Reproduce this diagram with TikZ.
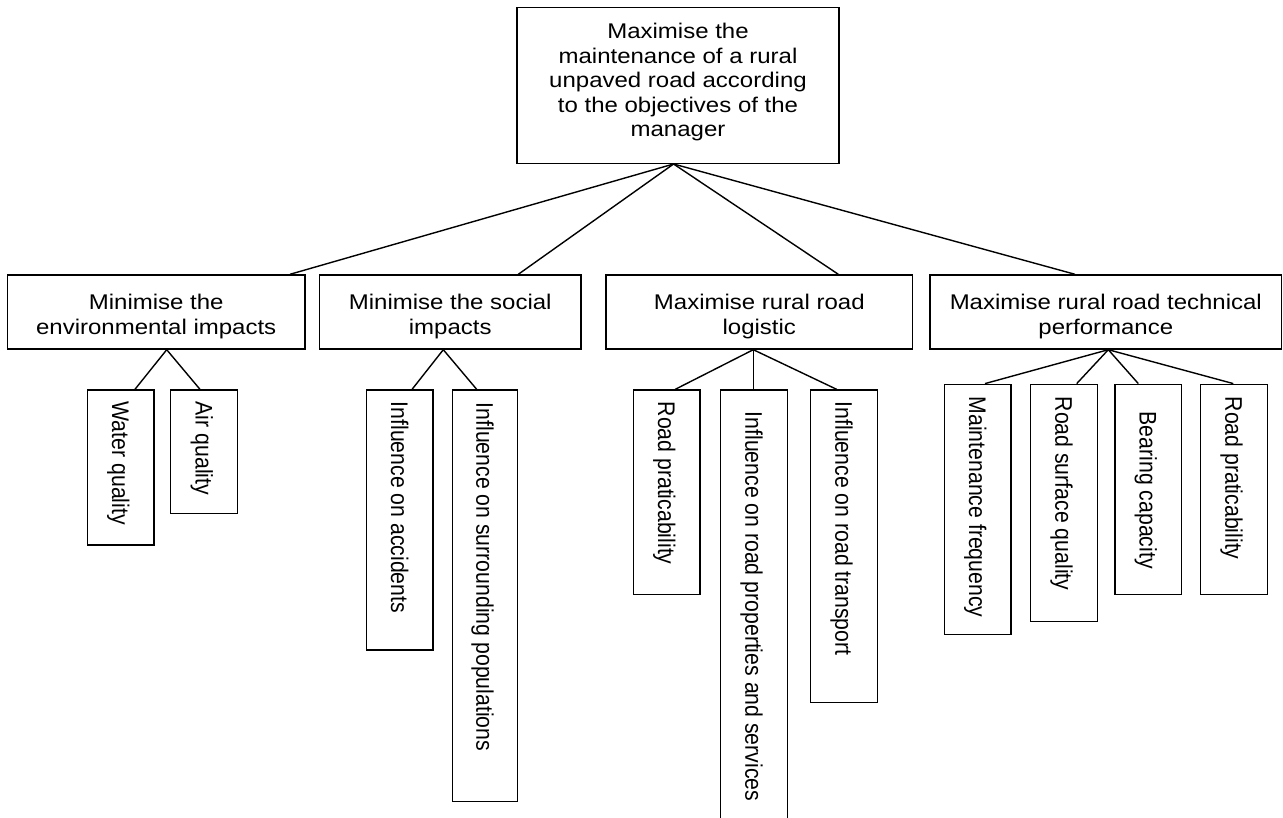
\documentclass[tikz,border=0pt]{standalone}
\usepackage{fontspec}
\setmainfont{Liberation Sans}
\usepackage{graphicx}
\usetikzlibrary{calc}
\newcommand\hbx[3]{\raisebox{#1}[\height][\depth]{\scalebox{1}[0.885]{\fontsize{24}{#2}\selectfont\begin{tabular}{@{}c@{}}#3\end{tabular}}}}
\newcommand\vtx[2]{\makebox[#1pt][l]{\scalebox{0.885}[1]{\fontsize{24}{28}\selectfont #2}}}
\tikzset{
  box/.style={draw, line width=1.4pt, inner sep=0pt, rectangle},
  vbox/.style={box, rotate=-90, inner ysep=0pt, text height=17.2pt, text depth=0pt},
  conn/.style={line width=1.4pt},
}
\begin{document}
\begin{tikzpicture}[x=1pt,y=-1pt]
\useasboundingbox[fill=white] (0,0) rectangle (1283,818);
% top
\node[box, minimum width=322pt, minimum height=156pt] (top) at (678,85.3)
  {\hbx{2.5pt}{27.5}{Maximise the\\maintenance of a rural\\unpaved road according\\to the objectives of the\\manager}};
% level 2
\node[box, minimum width=297.7pt, minimum height=74pt] (b1) at (156.2,312)
  {\hbx{-5pt}{29}{Minimise the\\environmental impacts}};
\node[box, minimum width=261.7pt, minimum height=74pt] (b2) at (450.2,312)
  {\hbx{-5pt}{29}{Minimise the social\\impacts}};
\node[box, minimum width=306.7pt, minimum height=74pt] (b3) at (759.3,312)
  {\hbx{-5pt}{29}{Maximise rural road\\logistic}};
\node[box, minimum width=351.7pt, minimum height=74pt] (b4) at (1105.8,312)
  {\hbx{-5pt}{29}{Maximise rural road technical\\performance}};
% level 3
\node[vbox, minimum width=155pt, minimum height=66.7pt, inner xsep=11.7pt] (wq) at (120.7,467.5) {\vtx{131.6}{Water quality}};
\node[vbox, minimum width=123.3pt, minimum height=67pt, inner xsep=11.7pt] (aq) at (204.2,451.7) {\vtx{99.9}{Air quality}};
\node[vbox, minimum width=260pt, minimum height=66.5pt, inner xsep=11.7pt] (acc) at (399.6,520) {\vtx{236.6}{Influence on accidents}};
\node[vbox, minimum width=411.7pt, minimum height=64.6pt, inner xsep=12.7pt] (pop) at (485,595.9) {\vtx{386.3}{Influence on surrounding populations}};
\node[vbox, minimum width=204.3pt, minimum height=66.7pt, inner xsep=11.7pt] (rp) at (666.7,492.2) {\vtx{180.9}{Road praticability}};
\node[vbox, minimum width=450pt, minimum height=66.6pt, inner xsep=21.7pt] (prop) at (754,615) {\vtx{406.6}{Influence on road properties and services}};
\node[vbox, minimum width=312.3pt, minimum height=66.6pt, inner xsep=11.7pt] (tr) at (844,546.2) {\vtx{288.9}{Influence on road transport}};
\node[vbox, minimum width=250pt, minimum height=66.7pt, inner xsep=12.4pt] (mf) at (977.7,509.3) {\vtx{225.2}{Maintenance frequency}};
\node[vbox, minimum width=237.4pt, minimum height=66.6pt, inner xsep=12.4pt] (rs) at (1064,503) {\vtx{212.6}{Road surface quality}};
\node[vbox, minimum width=210pt, minimum height=66.7pt, inner xsep=27.4pt] (bc) at (1148.3,489.3) {\vtx{155.2}{Bearing capacity}};
\node[vbox, minimum width=210pt, minimum height=66.6pt, inner xsep=12.4pt] (rp2) at (1234,489.3) {\vtx{185.2}{Road praticability}};
% connectors top -> level 2
\draw[conn] ([xshift=-4.4pt]top.south) -- ([xshift=133.8pt]b1.north);
\draw[conn] ([xshift=-4.4pt]top.south) -- ([xshift=68.1pt]b2.north);
\draw[conn] ([xshift=-4.4pt]top.south) -- ([xshift=79pt]b3.north);
\draw[conn] ([xshift=-4.4pt]top.south) -- ([xshift=-30.8pt]b4.north);
% level 2 -> level 3
\draw[conn] ([xshift=10.5pt]b1.south) -- ([xshift=14.3pt]wq.west);
\draw[conn] ([xshift=10.5pt]b1.south) -- ([xshift=-4.2pt]aq.west);
\draw[conn] ([xshift=-6.9pt]b2.south) -- ([xshift=12.5pt]acc.west);
\draw[conn] ([xshift=-6.9pt]b2.south) -- ([xshift=-8.3pt]pop.west);
\draw[conn] ([xshift=-6pt]b3.south) -- ([xshift=8.5pt]rp.west);
\draw[conn] ([xshift=-6pt]b3.south) -- ([xshift=-0.7pt]prop.west);
\draw[conn] ([xshift=-6pt]b3.south) -- ([xshift=-7.3pt]tr.west);
\draw[conn] ([xshift=2.5pt]b4.south) -- ([xshift=7.3pt]mf.west);
\draw[conn] ([xshift=2.5pt]b4.south) -- ([xshift=12.7pt]rs.west);
\draw[conn] ([xshift=2.5pt]b4.south) -- ([xshift=-10pt]bc.west);
\draw[conn] ([xshift=2.5pt]b4.south) -- ([xshift=-0.7pt]rp2.west);
\end{tikzpicture}
\end{document}
